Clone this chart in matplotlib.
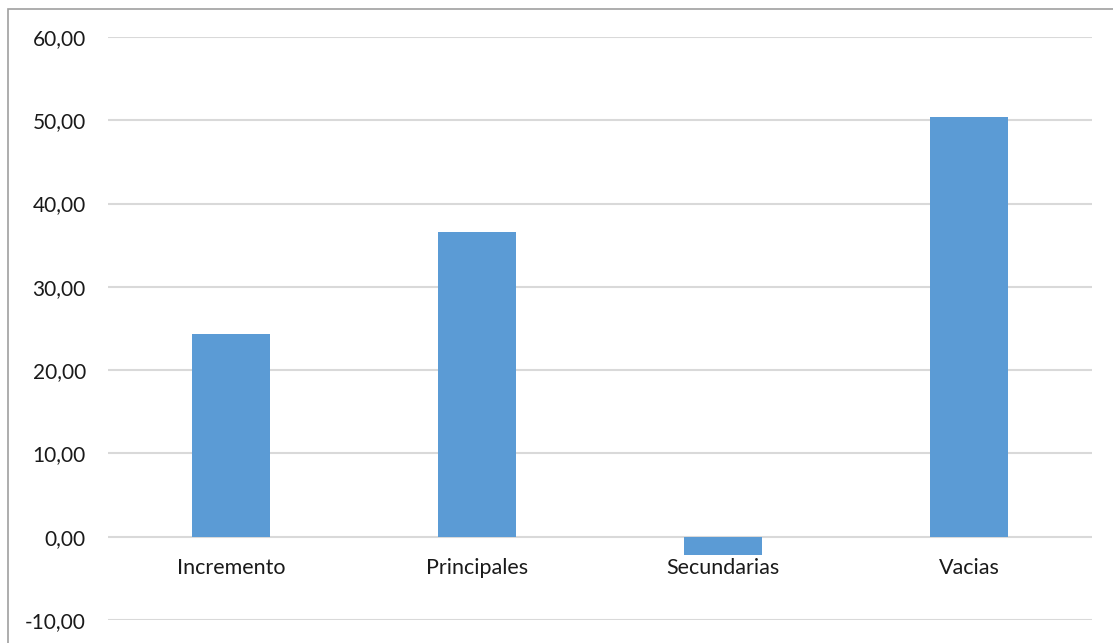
import matplotlib.pyplot as plt
import matplotlib.patches as mpatches
import numpy as np

# datos del grafico
categorias = ['Incremento', 'Principales', 'Secundarias', 'Vacias']
valores = [24.35, 36.6, -2.2, 50.45]
yticks = [-10, 0, 10, 20, 30, 40, 50, 60]

plt.rcParams['font.family'] = ['Lato', 'DejaVu Sans']

W, H = 1113, 643
fig = plt.figure(figsize=(W / 100, H / 100), dpi=100)

# plot area in pixel coords -> figure fraction
x0, x1 = 108, 1092
y_top, y_bot = 37, 620
ax = fig.add_axes([x0 / W, 1 - y_bot / H, (x1 - x0) / W, (y_bot - y_top) / H])

x = np.arange(len(categorias))
ax.bar(x, valores, width=0.315, color='#5b9bd5', zorder=3)

ax.set_xlim(-0.5, len(categorias) - 0.5)
ax.set_ylim(-10, 60)
ax.set_yticks(yticks)
ax.set_yticklabels(['{:.2f}'.format(v).replace('.', ',') for v in yticks],
                   fontsize=15, color='#1a1a1a')
ax.grid(axis='y', color='#d9d9d9', linewidth=1.5, zorder=0)
ax.tick_params(axis='y', length=0, pad=16)
ax.set_xticks([])

for s in ax.spines.values():
    s.set_visible(False)

# category labels just under the zero line
for xi, cat in zip(x, categorias):
    ax.text(xi, -3.8, cat, ha='center', va='center', fontsize=15.5, color='#1a1a1a')

# chart border (cut off at right and bottom)
border = mpatches.Rectangle((7.5 / W, -0.1), 1.2, 1 - 8.5 / H + 0.1,
                            transform=fig.transFigure, fill=False,
                            edgecolor='#a0a0a0', linewidth=1.2)
fig.patches.append(border)

fig.savefig('out.png', dpi=100)
